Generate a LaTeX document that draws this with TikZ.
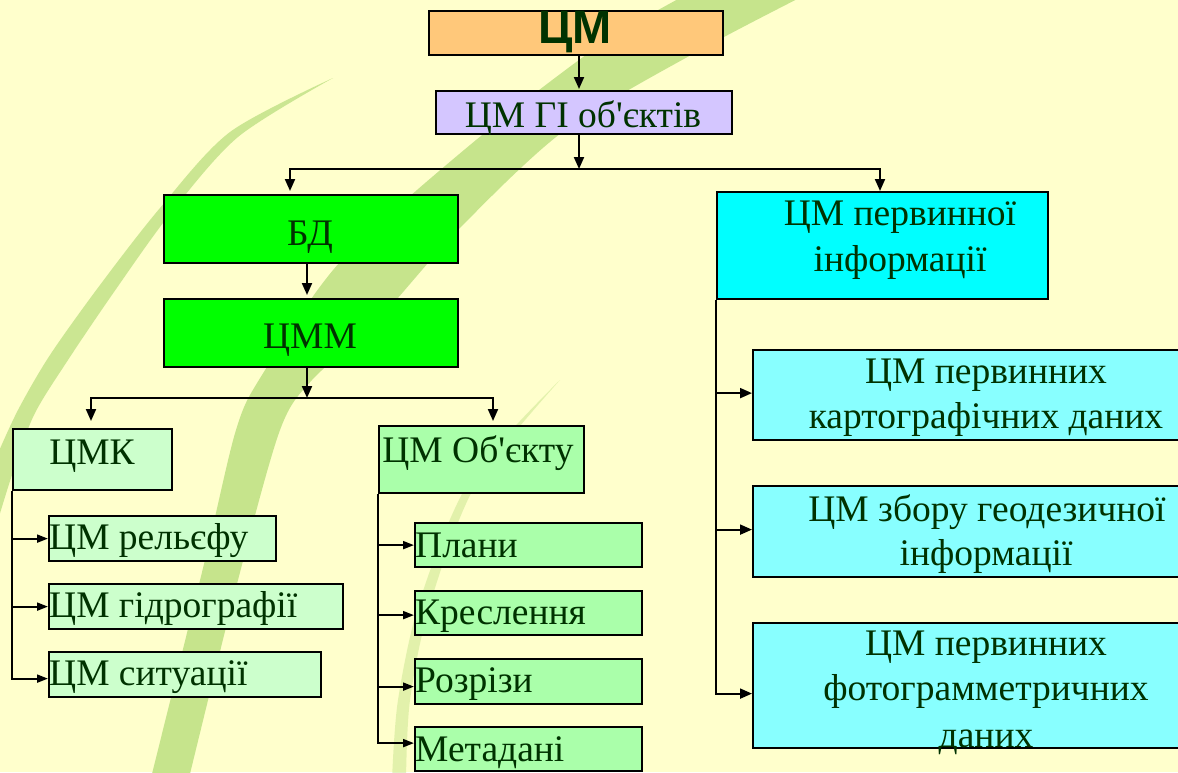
\documentclass[tikz,border=0pt]{standalone}
\usepackage{fontspec}
\setmainfont{Liberation Serif}[Ligatures=TeXOff]
\newfontfamily\hdfont{Liberation Sans}[Ligatures=TeXOff]
\usetikzlibrary{arrows.meta,calc}
\definecolor{bgc}{RGB}{255,255,204}
\definecolor{bandc}{RGB}{198,228,140}
\definecolor{txt}{RGB}{0,50,0}
\definecolor{orangef}{RGB}{255,200,122}
\definecolor{lavf}{RGB}{212,198,255}
\definecolor{greenf}{RGB}{0,255,0}
\definecolor{palef}{RGB}{204,255,204}
\definecolor{midf}{RGB}{170,255,170}
\definecolor{cyanf}{RGB}{0,255,255}
\definecolor{lcyanf}{RGB}{136,255,255}
\tikzset{
  box/.style={draw=black, line width=2.2pt, inner sep=0pt, anchor=north west},
  lbl/.style={text=txt, inner sep=0pt, font=\fontsize{37.5}{45}\selectfont},
  conn/.style={line width=2pt, draw=black},
  arr/.style={conn, -{Triangle[length=12pt,width=10pt]}},
  sarr/.style={conn, -{Triangle[length=11pt,width=8pt]}},
}
\begin{document}
\begin{tikzpicture}[x=1pt,y=-1pt]
\useasboundingbox (0,0) rectangle (1178,772);
\fill[bgc] (0,0) rectangle (1178,772);
% background bands
\fill[bandc] plot[smooth] coordinates {(695,-10) (600,45) (470,145) (340,262) (262,375) (236,430) (205,560) (150,782)}
  -- plot[smooth] coordinates {(188,782) (238,580) (280,430) (312,380) (378,320) (458,230) (565,130) (700,50) (815,-10)} -- cycle;
\fill[bandc, opacity=0.9] plot[smooth] coordinates {(333,78) (230,132) (160,208) (100,285) (50,355) (18,410) (-5,460)}
  -- plot[smooth] coordinates {(-5,530) (12,475) (34,415) (68,360) (114,292) (170,214) (238,137) (333,78)} -- cycle;
\fill[bandc, opacity=0.5] plot[smooth] coordinates {(560,380) (470,480) (420,600) (398,700) (392,780)}
  -- plot[smooth] coordinates {(406,780) (410,700) (430,604) (476,484) (560,380)} -- cycle;
% boxes
\node[box, fill=orangef, minimum width=294pt, minimum height=44pt] (cm) at (428,10) {};
\node[box, fill=lavf, minimum width=296pt, minimum height=43pt] (gi) at (435,90) {};
\node[box, fill=greenf, minimum width=294pt, minimum height=68pt] (bd) at (163,194) {};
\node[box, fill=greenf, minimum width=294pt, minimum height=68pt] (cmm) at (163,298) {};
\node[box, fill=palef, minimum width=159pt, minimum height=61pt] (cmk) at (12,428) {};
\node[box, fill=midf, minimum width=205pt, minimum height=67pt] (obj) at (378,425) {};
\node[box, fill=palef, minimum width=227pt, minimum height=45pt] (rel) at (48,515) {};
\node[box, fill=palef, minimum width=294pt, minimum height=45pt] (hyd) at (48,583) {};
\node[box, fill=palef, minimum width=272pt, minimum height=45pt] (sit) at (48,651) {};
\node[box, fill=midf, minimum width=227pt, minimum height=44pt] (pla) at (414,522) {};
\node[box, fill=midf, minimum width=227pt, minimum height=44pt] (kre) at (414,590) {};
\node[box, fill=midf, minimum width=227pt, minimum height=45pt] (roz) at (414,658) {};
\node[box, fill=midf, minimum width=227pt, minimum height=44pt] (met) at (414,726) {};
\node[box, fill=cyanf, minimum width=331pt, minimum height=107pt] (pi) at (716,191) {};
\node[box, fill=lcyanf, minimum width=428pt, minimum height=90pt] (kart) at (752,349) {};
\node[box, fill=lcyanf, minimum width=428pt, minimum height=91pt] (geo) at (752,485) {};
\node[box, fill=lcyanf, minimum width=428pt, minimum height=125pt] (foto) at (752,622) {};
% texts
\node[anchor=base, inner sep=0pt, text=txt, font=\hdfont\bfseries\fontsize{47}{50}\selectfont] (cmT) at (575,43) {ЦМ};
\node[lbl, anchor=base] (giT) at (583,127) {ЦМ ГІ об'єктів};
\node[lbl, anchor=base] (bdT) at (310,245) {БД};
\node[lbl, anchor=base] (cmmT) at (310,348) {ЦММ};
\node[lbl, anchor=base] (cmkT) at (92,464) {ЦМК};
\node[lbl, anchor=base] (objT) at (478,462) {ЦМ Об'єкту};
\node[lbl, anchor=base west] (relT) at (49,549) {ЦМ рельєфу};
\node[lbl, anchor=base west] (hydT) at (49,617) {ЦМ гідрографії};
\node[lbl, anchor=base west] (sitT) at (49,685) {ЦМ ситуації};
\node[lbl, anchor=base west] (plaT) at (415,557) {Плани};
\node[lbl, anchor=base west] (kreT) at (415,624) {Креслення};
\node[lbl, anchor=base west] (rozT) at (415,692) {Розрізи};
\node[lbl, anchor=base west] (metT) at (415,761) {Метадані};
\node[lbl, anchor=base] (piT1) at (900,225) {ЦМ первинної};
\node[lbl, anchor=base] (piT2) at (900,271) {інформації};
\node[lbl, anchor=base] (kartT1) at (986,383) {ЦМ первинних};
\node[lbl, anchor=base] (kartT2) at (986,428) {картографічних даних};
\node[lbl, anchor=base] (geoT1) at (987,521) {ЦМ збору геодезичної};
\node[lbl, anchor=base] (geoT2) at (986,565) {інформації};
\node[lbl, anchor=base] (fotoT1) at (986,655) {ЦМ первинних};
\node[lbl, anchor=base] (fotoT2) at (986,700) {фотограмметричних};
\node[lbl, anchor=base] (fotoT3) at (986,747) {даних};
% connectors
\coordinate (j1) at (579,169);
\coordinate (b1l) at (290,169);
\coordinate (b1r) at (880,169);
\draw[arr, shorten >=1pt] (cm.south -| j1) -- (gi.north -| j1);
\draw[arr] (gi.south -| j1) -- (j1);
\draw[arr, shorten >=3pt] (b1r) -- (b1l) -- (b1l |- bd.north);
\draw[arr] (b1l) -- (b1r) -- (b1r |- pi.north);
\coordinate (j2) at (307,398);
\coordinate (b2l) at (91,398);
\coordinate (b2r) at (493,398);
\draw[arr, shorten >=3pt] (bd.south -| j2) -- (cmm.north -| j2);
\draw[arr] (cmm.south -| j2) -- (j2);
\draw[arr, shorten >=7pt] (b2r) -- (b2l) -- (b2l |- cmk.north);
\draw[arr, shorten >=4pt] (b2l) -- (b2r) -- (b2r |- obj.north);
\draw[sarr] (cmk.south west) |- (rel.west);
\draw[sarr] (cmk.south west) |- (hyd.west);
\draw[sarr] (cmk.south west) |- ($(sit.west)+(0,4)$);
\draw[sarr] (obj.south west) |- (pla.west);
\draw[sarr] (obj.south west) |- ($(kre.west)+(0,2)$);
\draw[sarr] (obj.south west) |- ($(roz.west)+(0,5)$);
\draw[sarr] (obj.south west) |- ($(met.west)+(0,-6)$);
\draw[arr] (pi.south west) |- ($(kart.west)+(0,-2)$);
\draw[arr] (pi.south west) |- ($(geo.west)+(0,-2)$);
\draw[arr] (pi.south west) |- ($(foto.west)+(0,8)$);
\end{tikzpicture}
\end{document}
